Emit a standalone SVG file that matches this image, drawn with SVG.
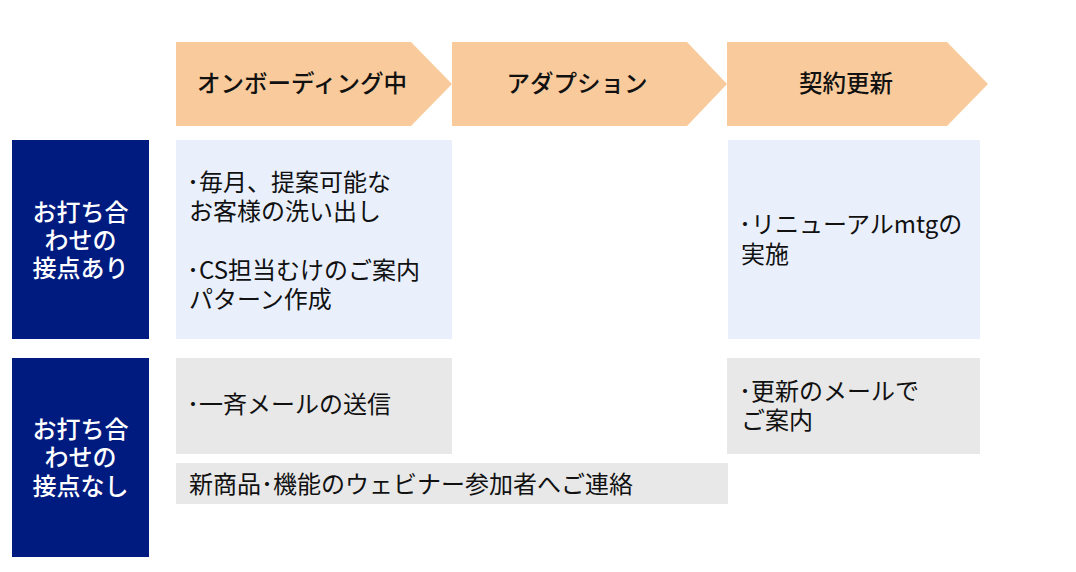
<svg xmlns="http://www.w3.org/2000/svg" width="1076" height="572" viewBox="0 0 1076 572">
<style>
  .phase { fill: #F9CB9C; }
  .hdr { font-family: "Noto Sans CJK JP", "Liberation Sans", sans-serif; font-size: 23.5px; font-weight: 500; fill: #111; text-anchor: middle; }
  .navy { fill: #001B80; }
  .lbl { font-family: "Noto Sans CJK JP", "Liberation Sans", sans-serif; font-size: 24px; font-weight: 500; fill: #fff; text-anchor: middle; }
  .blue { fill: #E9F0FC; }
  .gray { fill: #E8E8E8; }
  .txt { font-family: "Noto Sans CJK JP", "Liberation Sans", sans-serif; font-size: 24px; fill: #111; }
</style>
<rect width="1076" height="572" fill="#fff"/>
<g id="phase-onboarding">
  <polygon class="phase" points="176,42 411,42 452,84 411,126 176,126"/>
  <text class="hdr" x="302" y="92">オンボーディング中</text>
</g>
<g id="phase-adoption">
  <polygon class="phase" points="452,42 687,42 727,84 687,126 452,126"/>
  <text class="hdr" x="577" y="92">アダプション</text>
</g>
<g id="phase-renewal">
  <polygon class="phase" points="727,42 947,42 988,84 947,126 727,126"/>
  <text class="hdr" x="846" y="92">契約更新</text>
</g>
<g id="row-with-contact">
  <rect class="navy" x="12" y="140" width="137" height="199"/>
  <text class="lbl" x="80.5" y="221">お打ち合</text>
  <text class="lbl" x="80.5" y="249">わせの</text>
  <text class="lbl" x="80.5" y="277">接点あり</text>
</g>
<g id="row-without-contact">
  <rect class="navy" x="12" y="358" width="137" height="199"/>
  <text class="lbl" x="80.5" y="438">お打ち合</text>
  <text class="lbl" x="80.5" y="466">わせの</text>
  <text class="lbl" x="80.5" y="495">接点なし</text>
</g>
<g id="cell-onboarding-contact">
  <rect class="blue" x="176" y="140" width="276" height="199"/>
  <text class="txt" x="187" y="191">･毎月、提案可能な</text>
  <text class="txt" x="189" y="220">お客様の洗い出し</text>
  <text class="txt" x="187" y="279">･CS担当むけのご案内</text>
  <text class="txt" x="189" y="308">パターン作成</text>
</g>
<g id="cell-renewal-contact">
  <rect class="blue" x="728" y="140" width="252" height="199"/>
  <text class="txt" x="739" y="233">･リニューアルmtgの</text>
  <text class="txt" x="741" y="263">実施</text>
</g>
<g id="cell-onboarding-nocontact">
  <rect class="gray" x="176" y="358" width="276" height="96"/>
  <text class="txt" x="187" y="413">･一斉メールの送信</text>
</g>
<g id="cell-renewal-nocontact">
  <rect class="gray" x="727" y="358" width="253" height="96"/>
  <text class="txt" x="739" y="400">･更新のメールで</text>
  <text class="txt" x="741" y="429">ご案内</text>
</g>
<g id="cell-webinar">
  <rect class="gray" x="176" y="463" width="552" height="41"/>
  <text class="txt" x="189" y="493">新商品･機能のウェビナー参加者へご連絡</text>
</g>
<g id="connectors"></g>
</svg>
